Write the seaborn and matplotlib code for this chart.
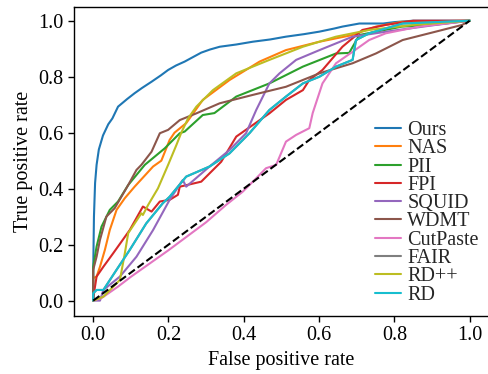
import matplotlib
matplotlib.use("Agg")
import matplotlib.pyplot as plt
import pandas as pd
import seaborn as sns

# ROC curves
ours_fpr = [0, 0, 0.002, 0.005, 0.009, 0.015, 0.026, 0.04, 0.051, 0.066, 0.09, 0.11, 0.13, 0.155, 0.18, 0.199,
            0.22, 0.243, 0.265, 0.287, 0.31, 0.336, 0.38, 0.424, 0.47, 0.512, 0.56, 0.601, 0.64, 0.662, 0.707,
            0.77, 0.8, 0.85, 1.0]
ours_tpr = [0, 0.1, 0.3, 0.42, 0.485, 0.54, 0.59, 0.63, 0.651, 0.693, 0.72, 0.741, 0.76, 0.782, 0.805, 0.824,
            0.84, 0.854, 0.87, 0.886, 0.897, 0.907, 0.915, 0.925, 0.933, 0.943, 0.952, 0.961, 0.972, 0.979, 0.99,
            0.99, 0.995, 1.0, 1.0]

nas_fpr = [0, 0, 0.009, 0.018, 0.031, 0.044, 0.062, 0.084, 0.11, 0.159, 0.181, 0.203, 0.216, 0.247, 0.291,
           0.362, 0.442, 0.512, 0.601, 0.689, 0.751, 0.82, 1.0]
nas_tpr = [0, 0.08, 0.086, 0.121, 0.181, 0.252, 0.324, 0.366, 0.407, 0.479, 0.5, 0.574, 0.6, 0.634, 0.717,
           0.788, 0.854, 0.895, 0.925, 0.949, 0.979, 0.996, 1.0]

pii_fpr = [0, 0, 0.009, 0.022, 0.044, 0.066, 0.093, 0.137, 0.19, 0.23, 0.243, 0.291, 0.322, 0.38, 0.468,
           0.557, 0.645, 0.68, 0.707, 0.82, 0.9, 1.0]
pii_tpr = [0, 0.12, 0.193, 0.264, 0.324, 0.354, 0.413, 0.485, 0.544, 0.598, 0.604, 0.663, 0.67, 0.729, 0.776,
           0.836, 0.883, 0.885, 0.949, 0.979, 0.985, 1.0]

fpi_fpr = [0, 0.002, 0.009, 0.027, 0.053, 0.097, 0.132, 0.155, 0.177, 0.203, 0.225, 0.23, 0.287, 0.34,
           0.38, 0.468, 0.512, 0.557, 0.574, 0.609, 0.662, 0.715, 0.777, 0.85, 1.0]
fpi_tpr = [0, 0.026, 0.086, 0.121, 0.169, 0.252, 0.336, 0.318, 0.354, 0.36, 0.378, 0.407, 0.425, 0.496,
           0.586, 0.669, 0.717, 0.752, 0.788, 0.824, 0.907, 0.967, 0.985, 1.0, 1.0]

squid_fpr = [0, 0.005, 0.018, 0.027, 0.071, 0.115, 0.159, 0.203, 0.238, 0.247, 0.309, 0.362, 0.406, 0.433,
             0.468, 0.495, 0.539, 0.601, 0.689, 0.8, 0.91, 1.0]
squid_tpr = [0, 0, 0, 0.038, 0.086, 0.157, 0.252, 0.36, 0.431, 0.407, 0.479, 0.538, 0.598, 0.681,
             0.776, 0.812, 0.86, 0.895, 0.943, 0.965, 0.985, 1.0]

wdmt_fpr = [0, 0, 0.009, 0.018, 0.035, 0.057, 0.093, 0.115, 0.128, 0.155, 0.177, 0.199, 0.23, 0.274, 0.336,
            0.424, 0.512, 0.601, 0.689, 0.751, 0.822, 0.91, 0.98, 1.0]
wdmt_tpr = [0, 0.11, 0.157, 0.217, 0.3, 0.33, 0.413, 0.467, 0.485, 0.532, 0.598, 0.61, 0.645, 0.669, 0.705,
            0.735, 0.764, 0.812, 0.848, 0.883, 0.931, 0.961, 0.985, 1.0]

cutpaste_fpr = [0, 0.022, 0.066, 0.1, 0.2, 0.3, 0.353, 0.397, 0.433, 0.459, 0.486, 0.512, 0.539, 0.574,
                0.583, 0.609, 0.645, 0.689, 0.733, 0.777, 0.866, 1.0]
cutpaste_tpr = [0, 0.009, 0.05, 0.085, 0.18, 0.28, 0.342, 0.389, 0.437, 0.473, 0.485, 0.568, 0.592, 0.616,
                0.67, 0.776, 0.848, 0.889, 0.931, 0.955, 0.979, 1.0]

rdpp_fpr = [0, 0.027, 0.071, 0.084, 0.093, 0.128, 0.132, 0.146, 0.172, 0.199, 0.221, 0.234, 0.252, 0.274,
            0.318, 0.38, 0.468, 0.557, 0.645, 0.733, 0.85, 1.0]
rdpp_tpr = [0, 0.014, 0.074, 0.169, 0.241, 0.312, 0.306, 0.342, 0.401, 0.485, 0.556, 0.6, 0.651, 0.693,
            0.752, 0.812, 0.86, 0.907, 0.943, 0.967, 0.985, 1.0]

rd_fpr = [0, 0, 0.009, 0.027, 0.062, 0.097, 0.141, 0.185, 0.203, 0.247, 0.309, 0.362, 0.415, 0.468, 0.512,
          0.557, 0.601, 0.645, 0.689, 0.698, 0.733, 0.822, 1.0]
rd_tpr = [0, 0.026, 0.038, 0.038, 0.11, 0.181, 0.276, 0.348, 0.371, 0.443, 0.479, 0.526, 0.598, 0.681, 0.729,
          0.776, 0.8, 0.836, 0.86, 0.931, 0.955, 0.99, 1.0]

# FAIR is hidden underneath the other curves in the reference
fair_fpr = rd_fpr
fair_tpr = rd_tpr

methods = ["Ours", "NAS", "PII", "FPI", "SQUID", "WDMT", "CutPaste", "FAIR", "RD++", "RD"]
curves = [(ours_fpr, ours_tpr), (nas_fpr, nas_tpr), (pii_fpr, pii_tpr), (fpi_fpr, fpi_tpr),
          (squid_fpr, squid_tpr), (wdmt_fpr, wdmt_tpr), (cutpaste_fpr, cutpaste_tpr),
          (fair_fpr, fair_tpr), (rdpp_fpr, rdpp_tpr), (rd_fpr, rd_tpr)]

frames = []
for name, (fpr, tpr) in zip(methods, curves):
    frames.append(pd.DataFrame({"fpr": fpr, "tpr": tpr, "method": name}))
df = pd.concat(frames, ignore_index=True)

sns.set_theme(style="ticks")
plt.rcParams["font.family"] = ["Liberation Serif", "DejaVu Serif"]

fig = plt.figure(figsize=(4.89, 3.74), dpi=100)
ax = fig.add_axes([74 / 489, 58 / 374, 414.5 / 489, 309 / 374])

sns.lineplot(data=df, x="fpr", y="tpr", hue="method", hue_order=methods, palette="tab10",
             sort=False, estimator=None, units="method", linewidth=1.5, ax=ax)
ax.plot([0, 1], [0, 1], color="black", linestyle="--", linewidth=1.5, zorder=5)

ax.set_xlim(-0.051, 1.05)
ax.set_ylim(-0.055, 1.049)
ax.set_xticks([0, 0.2, 0.4, 0.6, 0.8, 1.0])
ax.set_yticks([0, 0.2, 0.4, 0.6, 0.8, 1.0])
ax.tick_params(labelsize=14.5, length=4, width=1, colors="black")
ax.set_xlabel("False positive rate", fontsize=14.5, color="black")
ax.set_ylabel("True positive rate", fontsize=14.5, color="black")
for s in ax.spines.values():
    s.set_color("black")
    s.set_linewidth(1)

ax.legend(loc="center left", bbox_to_anchor=(0.707, 0.334), frameon=False, fontsize=14.5,
          handlelength=1.3, handletextpad=0.3, labelspacing=-0.04, borderaxespad=0)

plt.savefig("out.png", dpi=100)
